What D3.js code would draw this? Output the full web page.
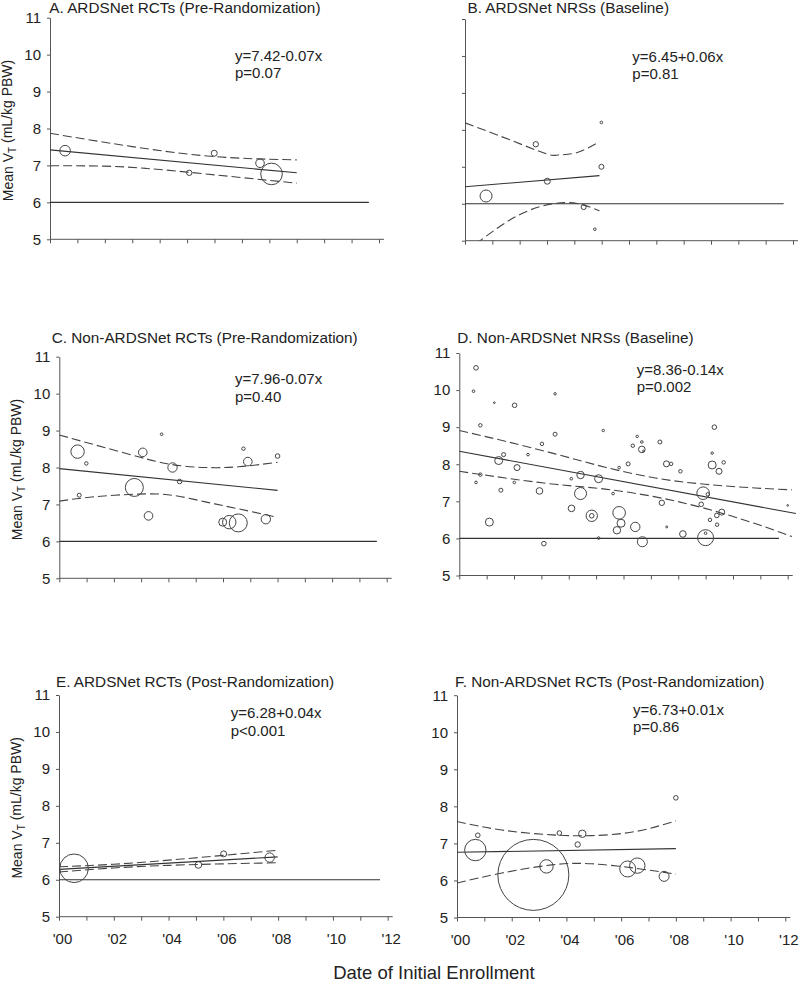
<!DOCTYPE html>
<html>
<head>
<meta charset="utf-8">
<script src="https://cdn.jsdelivr.net/npm/d3@7"></script>
<style>
  html, body { margin: 0; padding: 0; background: #fff; }
  svg { display: block; }
  text { font-family: "Liberation Sans", Arial, Helvetica, sans-serif; fill: #222; }
</style>
</head>
<body>
<svg id="chart" width="800" height="987"></svg>
<script>
// ---------------- DATA ----------------
const xTicks = [0,1,2,3,4,5,6,7,8,9,10,11,12];               // years since 2000
const xTickLabels = ["'00","","'02","","'04","","'06","","'08","","'10","","'12"];
const yTicks = [5,6,7,8,9,10,11];

const titles = [
  "A. ARDSNet RCTs (Pre-Randomization)",
  "B. ARDSNet NRSs (Baseline)",
  "C. Non-ARDSNet RCTs (Pre-Randomization)",
  "D. Non-ARDSNet NRSs (Baseline)",
  "E. ARDSNet RCTs (Post-Randomization)",
  "F. Non-ARDSNet RCTs (Post-Randomization)"
];
const equations = ["y=7.42-0.07x","y=6.45+0.06x","y=7.96-0.07x","y=8.36-0.14x","y=6.28+0.04x","y=6.73+0.01x"];
const pValues   = ["p=0.07","p=0.81","p=0.40","p=0.002","p<0.001","p=0.86"];

// studies: [year since 2000, mean VT, study size]
const studiesA = [[0.55,7.40,112],[5.08,6.80,29],[5.99,7.33,36],[7.66,7.06,74],[8.08,6.77,467]];
const studiesB = [[0.77,6.21,144],[2.59,7.61,29],[3.01,6.61,36],[4.34,5.91,25],[4.75,5.31,7],[4.99,7.00,25],[4.99,8.20,7]];
const studiesC = [[0.67,8.43,180],[0.99,8.11,12],[0.73,7.25,16],[2.75,7.46,324],[3.06,8.41,74],[3.27,6.69,74],
  [3.75,8.90,7],[4.15,8.00,88],[4.41,7.62,21],[5.99,6.52,64],[6.23,6.52,180],[6.56,6.50,324],[6.75,8.51,12],
  [6.91,8.16,74],[7.57,6.60,88],[8.00,8.31,21]];
const studiesD = [[0.61,10.60,21],[0.52,9.97,7],[1.28,9.66,3],[2.02,9.59,21],[3.50,9.90,6],[0.77,9.05,12],
  [0.61,7.51,7],[0.77,7.72,12],[1.10,6.44,64],[1.44,8.10,64],[1.62,8.26,16],[1.52,7.30,16],[2.01,7.51,7],
  [2.11,7.91,36],[2.51,8.26,7],[3.02,8.55,12],[2.93,7.28,44],[3.09,5.86,21],[3.50,8.81,16],[4.09,7.61,7],
  [4.10,6.81,44],[4.43,7.71,55],[4.43,7.21,144],[4.84,6.61,130],[4.84,6.61,21],[5.09,7.61,64],[5.09,6.01,7],
  [5.26,8.91,6],[5.62,7.21,7],[5.84,7.91,7],[5.84,6.69,159],[5.91,6.41,64],[5.76,6.22,55],[6.17,8.01,16],
  [6.34,8.50,12],[6.50,8.75,6],[6.43,6.31,88],[6.67,8.60,7],[6.67,8.40,44],[6.73,8.36,3],[6.69,5.91,100],
  [7.33,8.60,16],[7.40,6.96,29],[7.58,6.31,4],[7.57,8.01,36],[7.74,8.01,12],[8.08,7.81,12],[8.17,6.12,44],
  [8.84,6.92,21],[8.91,7.22,159],[9.08,7.19,12],[9.00,6.02,256],[9.00,6.14,7],[9.16,6.50,12],[9.24,8.30,6],
  [9.32,9.00,21],[9.24,7.98,64],[9.41,6.62,21],[9.42,6.37,12],[9.49,7.81,36],[9.59,6.71,36],[9.66,8.05,12],
  [12.0,6.89,3]];
const studiesE = [[0.55,6.31,818],[5.09,6.40,44],[6.01,6.70,36],[7.69,6.60,88]];
const studiesF = [[0.67,6.82,458],[0.76,7.22,21],[2.79,6.15,5041],[3.27,6.38,180],[3.74,7.28,21],[4.41,6.97,29],
  [4.58,7.26,55],[6.24,6.31,256],[6.59,6.40,237],[7.57,6.11,100],[8.00,8.23,21]];

// fitted regression lines [year, VT]
const fitA = [[0,7.42],[9.0,6.80]];
const fitB = [[0,6.46],[4.92,6.76]];
const fitC = [[0,7.97],[8.0,7.38]];
const fitD = [[0,8.35],[12.3,6.67]];
const fitE = [[0,6.28],[7.98,6.62]];
const fitF = [[0,6.76],[8.0,6.86]];

// 95% confidence bands
const upperA = [[0,7.87],[3.0,7.51],[6.0,7.24],[9.0,7.15]];
const lowerA = [[0,6.99],[2.0,6.98],[3.5,6.92],[5.0,6.82],[7.0,6.67],[9.0,6.52]];
const upperB = [[0,8.19],[1.64,7.73],[2.98,7.35],[3.41,7.32],[4.08,7.38],[4.92,7.68]];
const lowerB = [[0,4.72],[0.55,5.0],[1.64,5.56],[2.74,5.92],[3.65,6.03],[4.32,5.97],[4.92,5.81]];
const upperC = [[0,8.88],[1.32,8.61],[2.9,8.29],[4.13,8.08],[5.35,8.00],[6.57,8.02],[8.0,8.14]];
const lowerC = [[0,7.09],[1.32,7.21],[2.9,7.28],[4.13,7.25],[5.35,7.07],[6.57,6.88],[8.0,6.65]];
const upperD = [[0,8.91],[1.68,8.62],[3.5,8.28],[5.33,7.92],[7.16,7.63],[8.98,7.46],[10.81,7.36],[12.15,7.31]];
const lowerD = [[0,7.81],[1.68,7.63],[3.5,7.46],[5.33,7.33],[7.16,7.12],[8.98,6.81],[10.81,6.40],[12.15,6.05]];
const upperE = [[0,6.35],[2,6.42],[4,6.53],[6,6.66],[8,6.80]];
const lowerE = [[0,6.21],[2,6.32],[4,6.39],[6,6.43],[8,6.46]];
const upperF = [[0,7.59],[1.64,7.36],[3.47,7.23],[4.93,7.21],[6.52,7.32],[8.0,7.61]];
const lowerF = [[0,5.93],[1.64,6.20],[3.47,6.42],[4.93,6.45],[6.52,6.33],[8.0,6.17]];

// 6 mL/kg reference lines
const refA = [[0,6],[11.63,6]];
const refB = [[0,6],[11.66,6]];
const refC = [[0,6],[11.64,6]];
const refD = [[0,6],[11.68,6]];
const refE = [[0,6],[11.72,6]];
const refF = null;

// ---------------- LAYOUT ----------------
const panels = [
  {x0:50,   x1:379,   yTop:17.7,  yBot:239.3, studies:studiesA, fit:fitA, up:upperA, lo:lowerA, ref:refA,
   title:[49.3,12.5], eq:[235,61,78], yLabels:true, yTitle:true, xLabels:false},
  {x0:465,  x1:793,   yTop:19,    yBot:240.7, studies:studiesB, fit:fitB, up:upperB, lo:lowerB, ref:refB,
   title:[467.5,12.5], eq:[632.3,62,79], yLabels:false, yTitle:false, xLabels:false},
  {x0:59.3, x1:386.7, yTop:356.7, yBot:578.3, studies:studiesC, fit:fitC, up:upperC, lo:lowerC, ref:refC,
   title:[51.7,343.3], eq:[235,384,401.5], yLabels:true, yTitle:true, xLabels:false},
  {x0:459.3,x1:787.7, yTop:353,   yBot:575.5, studies:studiesD, fit:fitD, up:upperD, lo:lowerD, ref:refD,
   title:[457.3,343.3], eq:[636.7,375,392], yLabels:true, yTitle:false, xLabels:false},
  {x0:59,   x1:387.7, yTop:695,   yBot:916.7, studies:studiesE, fit:fitE, up:upperE, lo:lowerE, ref:refE,
   title:[56,686.7], eq:[230.7,718.3,735.7], yLabels:true, yTitle:true, xLabels:true},
  {x0:457,  x1:785.3, yTop:695.2, yBot:917.5, studies:studiesF, fit:fitF, up:upperF, lo:lowerF, ref:refF,
   title:[455,686.7], eq:[633,715,732.3], yLabels:true, yTitle:false, xLabels:true}
];

const svg = d3.select("#chart");
const rScale = d3.scaleSqrt().domain([0, 5041]).range([0, 35.5]);
const AXIS = "#555", LINE = "#333";

panels.forEach((p, i) => {
  const x = d3.scaleLinear().domain([0, 12]).range([p.x0, p.x1]);
  const y = d3.scaleLinear().domain([5, 11]).range([p.yBot, p.yTop]);
  const g = svg.append("g");

  // clip for lines
  const clipId = "clip" + i;
  svg.append("clipPath").attr("id", clipId).append("rect")
    .attr("x", p.x0).attr("y", p.yTop - 10)
    .attr("width", p.x1 - p.x0 + 20).attr("height", p.yBot - p.yTop + 10);

  // y axis
  const ya = g.append("g").attr("transform", `translate(${p.x0},0)`)
    .call(d3.axisLeft(y).tickValues(yTicks).tickSize(3).tickSizeOuter(0).tickPadding(6)
      .tickFormat(p.yLabels ? d3.format("d") : () => ""));
  ya.selectAll("path, line").attr("stroke", AXIS);
  ya.selectAll("text").style("font-size", "15px").attr("fill", "#222")
    .attr("font-family", null);

  // x axis
  const xa = g.append("g").attr("transform", `translate(0,${p.yBot})`)
    .call(d3.axisBottom(x).tickValues(xTicks).tickSize(4).tickSizeOuter(0).tickPadding(13)
      .tickFormat(p.xLabels ? ((d, k) => xTickLabels[k]) : () => ""));
  xa.select(".domain").attr("d", `M${p.x0},0H${p.x1 + 5}`);
  xa.selectAll("path, line").attr("stroke", AXIS);
  xa.selectAll("text").style("font-size", "15px").attr("fill", "#222").attr("dx", "3")
    .attr("font-family", null);

  const line = d3.line().x(d => x(d[0])).y(d => y(d[1]));
  const curve = d3.line().x(d => x(d[0])).y(d => y(d[1])).curve(d3.curveNatural);
  const lg = g.append("g").attr("clip-path", `url(#${clipId})`).attr("fill", "none");

  if (p.ref) lg.append("path").attr("d", line(p.ref)).attr("stroke", LINE).attr("stroke-width", 1.1);
  lg.append("path").attr("d", line(p.fit)).attr("stroke", LINE).attr("stroke-width", 1.1);
  [p.up, p.lo].forEach(band => {
    lg.append("path").attr("d", curve(band)).attr("stroke", "#444")
      .attr("stroke-width", 1.1).attr("stroke-dasharray", "9,4");
  });

  // study circles
  g.append("g").selectAll("circle").data(p.studies).join("circle")
    .attr("cx", d => x(d[0])).attr("cy", d => y(d[1]))
    .attr("r", d => Math.max(0.8, rScale(d[2])))
    .attr("fill", "none").attr("stroke", "#444").attr("stroke-width", 1);

  // title
  g.append("text").attr("x", p.title[0]).attr("y", p.title[1])
    .style("font-size", "15.3px").text(titles[i]);

  // equation & p value
  g.append("text").attr("x", p.eq[0]).attr("y", p.eq[1]).style("font-size", "15px").text(equations[i]);
  g.append("text").attr("x", p.eq[0]).attr("y", p.eq[2]).style("font-size", "15px").text(pValues[i]);

  // y title
  if (p.yTitle) {
    const cy = (p.yTop + p.yBot) / 2 + 2;
    const t = g.append("text")
      .attr("transform", `translate(${p.x0 - 37},${cy}) rotate(-90)`)
      .attr("text-anchor", "middle").style("font-size", "14px");
    t.append("tspan").text("Mean V");
    t.append("tspan").attr("dy", "0.3em").style("font-size", "10px").text("T");
    t.append("tspan").attr("dy", "-0.3em").text(" (mL/kg PBW)");
  }
});

svg.append("text").attr("x", 434).attr("y", 979).attr("text-anchor", "middle")
  .style("font-size", "18.5px").text("Date of Initial Enrollment");
</script>
</body>
</html>
